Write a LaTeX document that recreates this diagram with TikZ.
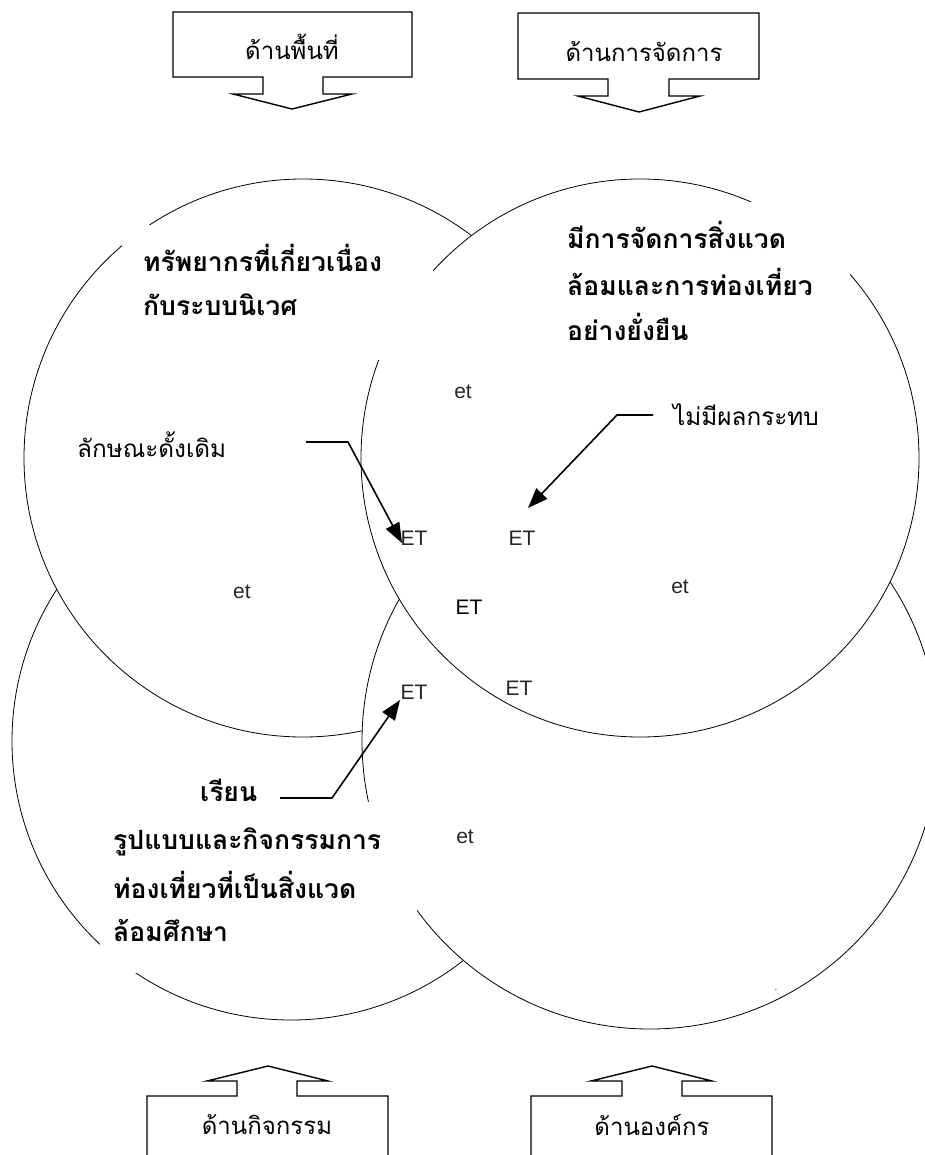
\documentclass[tikz,border=0pt]{standalone}
\usepackage{fontspec}
\setmainfont{Liberation Sans}
\newfontfamily\thai[Script=Thai]{Loma}
\usetikzlibrary{arrows.meta}
\tikzset{
  circ/.style={draw=black, fill=white, line width=0.8pt},
  callout/.style={draw=black, fill=white, line width=1.4pt, line join=miter},
  boxlabel/.style={font=\thai\fontsize{24}{28}\selectfont, inner sep=0pt},
  thaireg/.style={font=\thai\fontsize{24.3}{28}\selectfont, inner sep=0pt, anchor=west},
  thaibold/.style={font=\thai\bfseries\fontsize{26.5}{30}\selectfont, inner sep=0pt, anchor=west},
  lab/.style={font=\fontsize{21}{24}\selectfont, inner sep=1pt, fill=white, text=black!85},
  mask/.style={fill=white},
  pointer/.style={draw=black, line width=1.6pt, -{Triangle[length=20pt,width=15pt]}}
}
\begin{document}
\begin{tikzpicture}[x=1pt,y=-1pt]
\useasboundingbox (0,0) rectangle (925,1155);
\clip (0,0) rectangle (925,1155);
% circles (stacking order matters)
\filldraw[circ] (291,741) circle[radius=279pt];
\filldraw[circ] (303,458) circle[radius=279pt];
\filldraw[circ] (650,741) circle[radius=288pt];
\filldraw[circ] (640,458) circle[radius=279pt];
% text masks
\fill[mask] (122,225) rectangle (433,360);
\fill[mask] (545,202) rectangle (850,352);
\fill[mask] (100,802) rectangle (417,973);
% callout boxes
\draw[callout] (173,12) -- (412,12) -- (412,77) -- (323,77) -- (323,94) -- (352,94) -- (292,109) -- (233,94) -- (263,94) -- (263,77) -- (173,77) -- cycle;
\draw[callout] (518,13) -- (759,13) -- (759,79) -- (669,79) -- (669,96) -- (700,96) -- (639,112) -- (578,96) -- (608,96) -- (608,79) -- (518,79) -- cycle;
\draw[callout] (147,1170) -- (147,1096) -- (237,1096) -- (237,1081) -- (207,1081) -- (268,1066) -- (328,1081) -- (297,1081) -- (297,1096) -- (388,1096) -- (388,1170);
\draw[callout] (531,1170) -- (531,1096) -- (622,1096) -- (622,1081) -- (591,1081) -- (652,1066) -- (712,1081) -- (682,1081) -- (682,1096) -- (772,1096) -- (772,1170);
\node[boxlabel] (b1) at (292,47) {ด้านพื้นที่};
\node[boxlabel] (b2) at (644,52) {ด้านการจัดการ};
\node[boxlabel] (b3) at (267,1125) {ด้านกิจกรรม};
\node[boxlabel] (b4) at (652,1125) {ด้านองค์กร};
% bold headings
\node[thaibold] (tl1) at (143,258) {ทรัพยากรที่เกี่ยวเนื่อง};
\node[thaibold] (tl2) at (143,305) {กับระบบนิเวศ};
\node[thaibold] (tr1) at (567,235) {มีการจัดการสิ่งแวด};
\node[thaibold] (tr2) at (567,282) {ล้อมและการท่องเที่ยว};
\node[thaibold] (tr3) at (567,327) {อย่างยั่งยืน};
\node[thaibold] (bl0) at (200,790) {เรียน};
\node[thaibold] (bl1) at (113,842) {รูปแบบและกิจกรรมการ};
\node[thaibold] (bl2) at (113,885) {ท่องเที่ยวที่เป็นสิ่งแวด};
\node[thaibold] (bl3) at (113,930) {ล้อมศึกษา};
% regular labels
\node[thaireg] (orig) at (77,445) {ลักษณะดั้งเดิม};
\node[thaireg] (noimp) at (673,415) {ไม่มีผลกระทบ};
% et / ET labels
\node[lab] (e1) at (463,392) {et};
\node[lab] (e2) at (242,592) {et};
\node[lab] (e3) at (680,587) {et};
\node[lab] (e4) at (465,837) {et};
\node[lab] (E1) at (414,538) {ET};
\node[lab] (E2) at (522,538) {ET};
\node[lab, text=black] (E3) at (469,607) {ET};
\node[lab] (E4) at (519,688) {ET};
\node[lab] (E5) at (414,692) {ET};
\node[lab, font=\fontsize{10}{12}\selectfont, fill=none] (dot) at (776,990) {.};
% pointers
\coordinate (p1) at (306,442);
\coordinate (p1b) at (348,442);
\coordinate (t1) at (402,543);
\draw[pointer] (p1) -- (p1b) -- (t1);
\coordinate (p2) at (653,415);
\coordinate (p2b) at (617,415);
\coordinate (t2) at (528,508);
\draw[pointer] (p2) -- (p2b) -- (t2);
\coordinate (p3) at (280,798);
\coordinate (p3b) at (332,798);
\coordinate (t3) at (400,700);
\draw[pointer] (p3) -- (p3b) -- (t3);
\end{tikzpicture}
\end{document}
